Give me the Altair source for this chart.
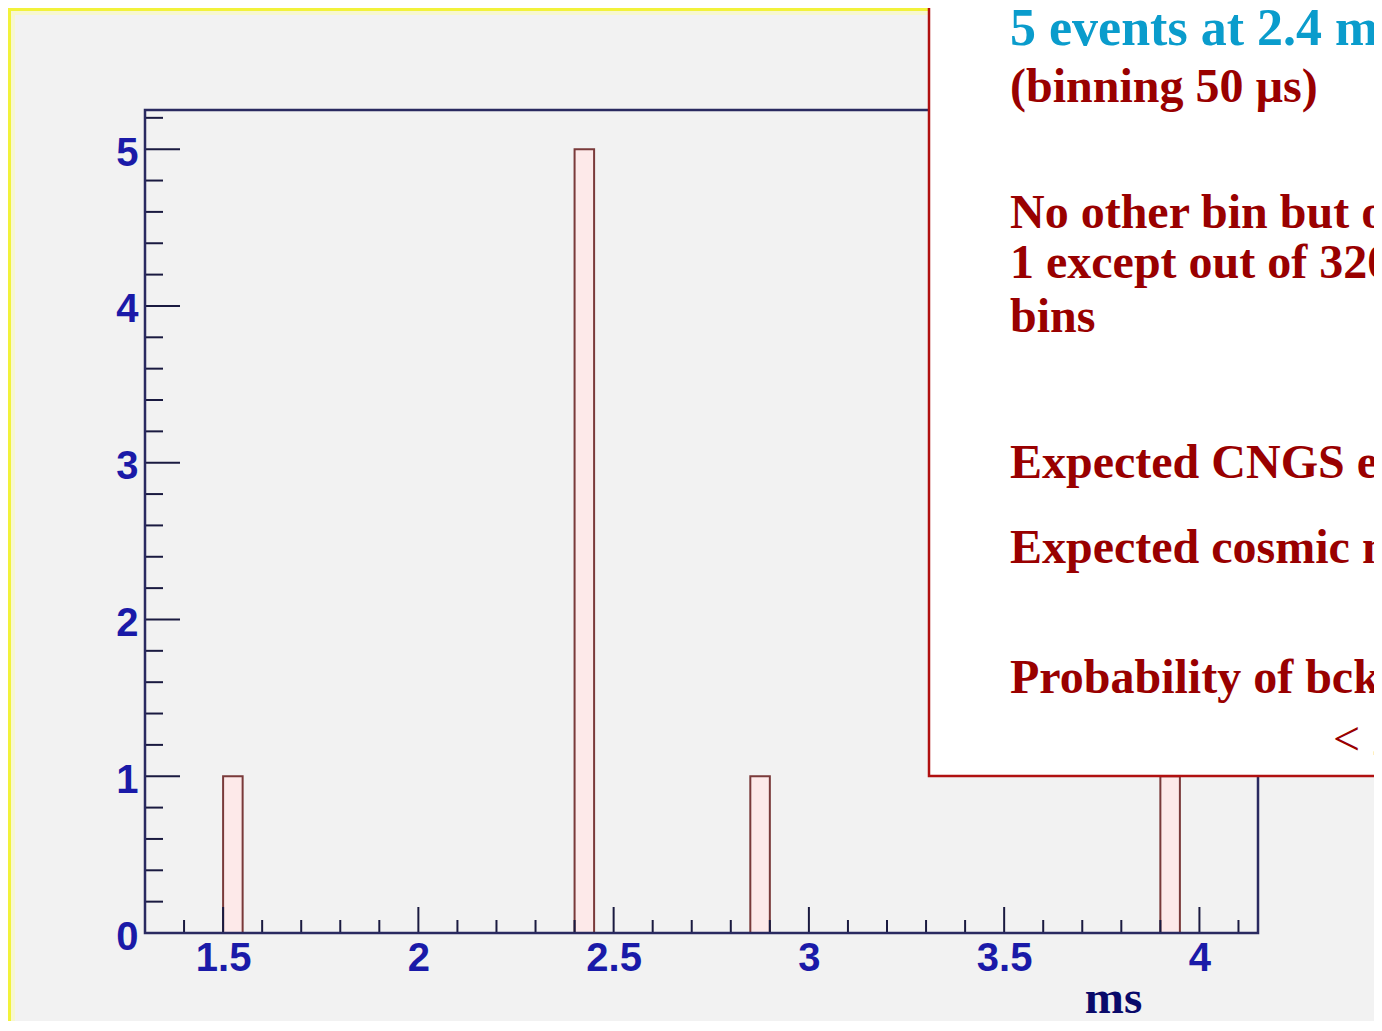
import altair as alt
import pandas as pd

# ---- data ----
bin_start = [1.50, 2.40, 2.85, 3.90]      # ms
bin_end = [1.55, 2.45, 2.90, 3.95]        # ms (50 us bins)
counts = [1, 5, 1, 1]

x_major = [1.5, 2.0, 2.5, 3.0, 3.5, 4.0]
x_minor = [1.4, 1.6, 1.7, 1.8, 1.9, 2.1, 2.2, 2.3, 2.4, 2.6, 2.7, 2.8, 2.9,
           3.1, 3.2, 3.3, 3.4, 3.6, 3.7, 3.8, 3.9, 4.1]
y_major = [0, 1, 2, 3, 4, 5]
y_minor = [0.2, 0.4, 0.6, 0.8, 1.2, 1.4, 1.6, 1.8, 2.2, 2.4, 2.6, 2.8,
           3.2, 3.4, 3.6, 3.8, 4.2, 4.4, 4.6, 4.8, 5.2]

box_lines = [
    "5 events at 2.4 ms",
    "(binning 50 \u00b5s)",
    "No other bin but one with more than",
    "1 except out of 3200",
    "bins",
    "Expected CNGS events",
    "Expected cosmic muons",
    "Probability of bck fluctuation",
    "< 2",
]
box_colors = ["#0a9ccc"] + ["#990000"] * 8
box_sizes = [52, 48, 48, 48, 48, 48, 48, 48, 48]
box_weights = ["bold"] * 8 + ["normal"]

# ---- layout (pixels) ----
W, H = 1113, 823
PAD_L, PAD_T = 137, 102
TOTAL_W, TOTAL_H = 1366, 1013

XD = [1.3, 4.15]
YD = [0, 5.25]
xs = alt.Scale(domain=XD, nice=False, zero=False)
ys = alt.Scale(domain=YD, nice=False, zero=False)

bars_df = pd.DataFrame({"start": bin_start, "end": bin_end, "count": counts})
bars_df["base"] = 0

# label-only axes
x_axis = alt.Axis(values=x_major, format=".1~f", labelFont="Liberation Sans",
                  labelFontWeight="bold", labelFontSize=40, labelColor="#1a1aa8",
                  labelPadding=5, ticks=False, domain=False, grid=False,
                  title="ms", titleFont="Liberation Serif", titleFontWeight="bold",
                  titleFontSize=47, titleColor="#0a0a6a", titleX=968, titleY=79,
                  titleAlign="center", titleBaseline="alphabetic")
y_axis = alt.Axis(values=y_major, format="d", labelFont="Liberation Sans",
                  labelFontWeight="bold", labelFontSize=40, labelColor="#1a1aa8",
                  labelPadding=7, ticks=False, domain=False, grid=False, title=None,
                  labelBaseline="middle", labelOffset=4)

bars = alt.Chart(bars_df).mark_rect(
    fill="#fde9e9", stroke="#7a3a3a", strokeWidth=2
).encode(
    x=alt.X("start:Q", scale=xs, axis=x_axis),
    x2="end:Q",
    y=alt.Y("base:Q", scale=ys, axis=y_axis),
    y2="count:Q",
)

# tick marks (inside frame, ROOT style)
TICK = "#1a1a40"
xmaj = alt.Chart(pd.DataFrame({"v": x_major})).mark_rule(
    color=TICK, strokeWidth=2).encode(
    x=alt.X("v:Q", scale=xs), y=alt.value(H), y2=alt.value(H - 26))
xmin = alt.Chart(pd.DataFrame({"v": x_minor})).mark_rule(
    color=TICK, strokeWidth=2).encode(
    x=alt.X("v:Q", scale=xs), y=alt.value(H), y2=alt.value(H - 13))
ymaj = alt.Chart(pd.DataFrame({"v": y_major})).mark_rule(
    color=TICK, strokeWidth=2).encode(
    y=alt.Y("v:Q", scale=ys), x=alt.value(0), x2=alt.value(35))
ymin = alt.Chart(pd.DataFrame({"v": y_minor})).mark_rule(
    color=TICK, strokeWidth=2).encode(
    y=alt.Y("v:Q", scale=ys), x=alt.value(0), x2=alt.value(18))

# frame
frame = alt.Chart(pd.DataFrame({"a": [0]})).mark_rect(
    fill=None, stroke="#2a2a60", strokeWidth=2.5).encode(
    x=alt.value(0), x2=alt.value(W), y=alt.value(0), y2=alt.value(H))

# outer canvas border (yellow, top and left)
yellow_top = alt.Chart(pd.DataFrame({"a": [0]})).mark_rule(
    color="#f2f23a", strokeWidth=3).encode(
    x=alt.value(-PAD_L), x2=alt.value(TOTAL_W), y=alt.value(-PAD_T + 1.5))
yellow_left = alt.Chart(pd.DataFrame({"a": [0]})).mark_rule(
    color="#f2f23a", strokeWidth=3).encode(
    x=alt.value(-PAD_L + 1.5), y=alt.value(-PAD_T), y2=alt.value(TOTAL_H - PAD_T))
yellow_top2 = alt.Chart(pd.DataFrame({"a": [0]})).mark_rule(
    color="#f7f7cf", strokeWidth=4).encode(
    x=alt.value(-PAD_L + 3), x2=alt.value(TOTAL_W), y=alt.value(-PAD_T + 5))
yellow_left2 = alt.Chart(pd.DataFrame({"a": [0]})).mark_rule(
    color="#f7f7cf", strokeWidth=4).encode(
    x=alt.value(-PAD_L + 5), y=alt.value(-PAD_T + 3), y2=alt.value(TOTAL_H - PAD_T))

# annotation box
box = alt.Chart(pd.DataFrame({"a": [0]})).mark_rect(
    fill="white", stroke="#b01010", strokeWidth=2.5).encode(
    x=alt.value(784), x2=alt.value(1400), y=alt.value(-200), y2=alt.value(666))

box_x = [865] * 8 + [1188]
box_y = [-65, -8, 118, 168, 222, 368, 453, 583, 645]
texts = []
for i in range(len(box_lines)):
    texts.append(
        alt.Chart(pd.DataFrame({"t": [box_lines[i]]})).mark_text(
            font="Liberation Serif", fontWeight=box_weights[i],
            fontSize=box_sizes[i], color=box_colors[i], align="left",
            baseline="alphabetic"
        ).encode(text="t:N", x=alt.value(box_x[i]), y=alt.value(box_y[i]))
    )

chart = alt.layer(
    yellow_top2, yellow_left2, yellow_top, yellow_left,
    bars, xmin, xmaj, ymin, ymaj, frame, box, *texts
).properties(
    width=W, height=H,
    autosize=alt.AutoSizeParams(type="none"),
    padding={"left": PAD_L, "top": PAD_T,
             "right": TOTAL_W - PAD_L - W, "bottom": TOTAL_H - PAD_T - H},
    background="#f2f2f2",
).configure_view(strokeWidth=0)

chart.save("out.html", embed_options={"renderer": "svg", "actions": False})
